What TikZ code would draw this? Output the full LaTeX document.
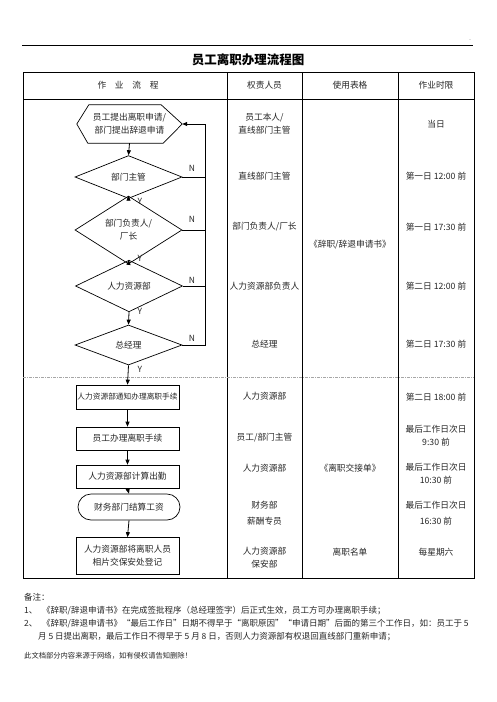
\documentclass[tikz,border=0pt]{standalone}
\usepackage{fontspec}
\setmainfont{Noto Sans CJK SC}
\usetikzlibrary{arrows.meta,shapes.geometric,shapes.misc,calc}
\begin{document}
\begin{tikzpicture}[x=1pt,y=-1pt,
  every node/.style={font=\fontsize{8.7}{11}\selectfont, inner sep=0pt, align=center, text=black!85},
  two/.style={font=\fontsize{8.7}{13}\selectfont},
  dia/.style={draw=black, diamond, minimum width=107pt, minimum height=40pt, line width=0.7pt},
  box/.style={draw=black, rectangle, minimum width=103pt, minimum height=24pt, line width=0.7pt},
  flow/.style={-{Triangle[length=5pt,width=4pt]}, line width=0.8pt},
  fbline/.style={line width=0.8pt},
  tline/.style={line width=1pt},
  lbl/.style={font=\fontsize{8.5}{10}\selectfont},
  note/.style={anchor=west, font=\fontsize{8.5}{11}\selectfont}
]
\useasboundingbox (0,0) rectangle (496,702);
\fill[white] (0,0) rectangle (496,702);

% top rule and title
\draw[line width=0.9pt] (22,45) -- (473,45);
\node[font=\fontsize{4}{5}\selectfont] (dots) at (470,40) {..};
\node[font=\bfseries\fontsize{12.5}{14}\selectfont, text=black] (title) at (248,60) {员工离职办理流程图};

% table frame
\draw[tline] (23,72) rectangle (474,578);
\draw[tline] (23,99) -- (474,99);
\draw[tline] (227,72) -- (227,578);
\draw[tline] (302,72) -- (302,578);
\draw[tline] (398,72) -- (398,578);
\draw[gray!70, line width=0.6pt, dash pattern=on 3pt off 1pt on 1pt off 1pt] (23,377) -- (474,377);

% headers
\node (h1) at (128,85) {作　业　流　程};
\node (h2) at (264.5,85) {权责人员};
\node (h3) at (350,85) {使用表格};
\node (h4) at (436,85) {作业时限};

% flowchart
\node[two, minimum width=105pt, minimum height=38pt] (hex) at (129.5,124) {员工提出离职申请/\\部门提出辞退申请};
\draw[line width=0.7pt] (hex.west) -- ($(hex.north west)+(12,0)$) -- ($(hex.north east)+(-21,0)$) -- (hex.east)
  -- ($(hex.south east)+(-19,0)$) -- ($(hex.south west)+(11,0)$) -- cycle;

\node[dia] (d1) at (128.5,177) {部门主管};
\node[dia, two, minimum height=46pt] (d2) at (128.5,230) {部门负责人/\\厂长};
\node[dia, minimum height=38pt] (d3) at (129,286) {人力资源部};
\node[dia] (d4) at (128.5,345) {总经理};

\node[box, font=\fontsize{7.7}{10}\selectfont] (b1) at (127.5,397) {人力资源部通知办理离职手续};
\node[box, minimum height=23pt] (b2) at (127.5,438.5) {员工办理离职手续};
\node[box, minimum height=23pt] (b3) at (127.5,476.5) {人力资源部计算出勤};
\node[draw=black, rounded rectangle, minimum width=102pt, minimum height=26pt, line width=0.7pt] (b4) at (129,507) {财务部门结算工资};
\node[box, two, minimum height=37pt] (b5) at (127.5,556) {人力资源部将离职人员\\相片交保安处登记};

\draw[flow] (hex.south) -- (d1.north);
\draw[flow] (d1.south) -- (d2.north);
\draw[flow] (d2.south) -- (d3.north);
\draw[flow] (d3.south) -- (d4.north);
\draw[flow] (d4.south) -- (b1.north);
\node[lbl] (y1) at (140,201) {Y};
\node[lbl] (y2) at (140,258) {Y};
\node[lbl] (y3) at (140,311) {Y};
\node[lbl] (y4) at (140,369) {Y};
\draw[flow] (b1.south) -- (b2.north);
\draw[flow] (b2.south) -- (b3.north);
\draw[flow] (b3.south) -- (b4.north);
\draw[flow] (b4.south) -- (b5.north);

% feedback (N) lines
\coordinate (fb) at (205,124);
\draw[fbline] (d1.east) -- (d1.east -| fb);
\draw[fbline] (d2.east) -- (d2.east -| fb);
\draw[fbline] (d3.east) -- (d3.east -| fb);
\draw[flow] (d4.east) -- (d4.east -| fb) -- (fb) -- (hex.east);
\node[lbl] (n1) at (192,168) {N};
\node[lbl] (n2) at (192,219) {N};
\node[lbl] (n3) at (192,280) {N};
\node[lbl] (n4) at (192,338) {N};

% column 2
\node[two] (r1) at (264.5,124) {员工本人/\\直线部门主管};
\node (r2) at (264.5,176) {直线部门主管};
\node (r3) at (264.5,227) {部门负责人/厂长};
\node (r4) at (264.5,286) {人力资源部负责人};
\node (r5) at (264.5,344) {总经理};
\node (r6) at (264.5,396) {人力资源部};
\node (r7) at (264.5,438) {员工/部门主管};
\node (r8) at (264.5,468) {人力资源部};
\node[two, font=\fontsize{8.7}{16}\selectfont] (r9) at (264.5,513) {财务部\\薪酬专员};
\node[two] (r10) at (264.5,558) {人力资源部\\保安部};

% column 3
\node (f1) at (350,245) {《辞职/辞退申请书》};
\node (f2) at (350,468) {《离职交接单》};
\node (f3) at (350,552) {离职名单};

% column 4
\node (t1) at (436,124) {当日};
\node (t2) at (436,176) {第一日 12:00 前};
\node (t3) at (436,227) {第一日 17:30 前};
\node (t4) at (436,286) {第二日 12:00 前};
\node (t5) at (436,344) {第二日 17:30 前};
\node (t6) at (436,397) {第二日 18:00 前};
\node[two] (t7) at (436,435.5) {最后工作日次日\\9:30 前};
\node[two] (t8) at (436,473.5) {最后工作日次日\\10:30 前};
\node[two, font=\fontsize{8.7}{16}\selectfont] (t9) at (436,513.5) {最后工作日次日\\16:30 前};
\node (t10) at (436,552) {每星期六};

% notes
\node[note] (nb) at (24,597) {备注：};
\node[note] (nn1) at (24,611) {1、};
\node[note] (nt1) at (42,611) {《辞职/辞退申请书》在完成签批程序（总经理签字）后正式生效，员工方可办理离职手续；};
\node[note] (nn2) at (24,624) {2、};
\node[note] (nt2) at (42,624) {《辞职/辞退申请书》“最后工作日”日期不得早于“离职原因”“申请日期”后面的第三个工作日，如：员工于 5};
\node[note] (nt3) at (38,637) {月 5 日提出离职，最后工作日不得早于 5 月 8 日，否则人力资源部有权退回直线部门重新申请；};
\node[note, font=\fontsize{7.3}{9}\selectfont] (foot) at (24,656) {此文档部分内容来源于网络，如有侵权请告知删除！};
\end{tikzpicture}
\end{document}
